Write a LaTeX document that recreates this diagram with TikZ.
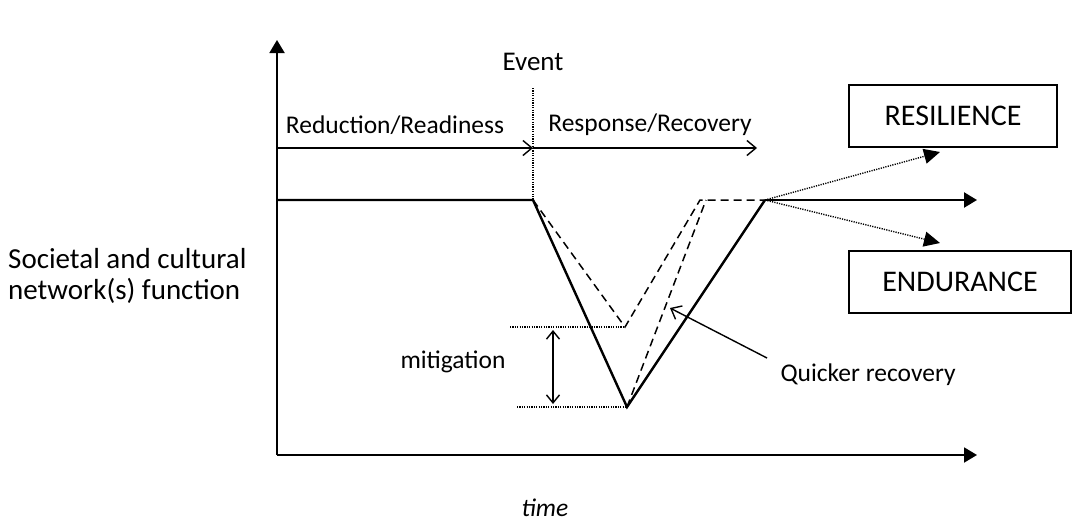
\documentclass[tikz,border=0pt]{standalone}
\usepackage{fontspec}
\setmainfont{Carlito}
\usetikzlibrary{arrows.meta,positioning}
\tikzset{
	axis/.style={line width=1.9pt, -{Triangle[length=13pt,width=15pt]}},
	phase/.style={line width=1.4pt, -{Straight Barb[length=9pt,width=15pt]}},
	func/.style={line width=2.4pt, line join=miter},
	alt/.style={line width=1.5pt, dash pattern=on 8pt off 5pt},
	guide/.style={line width=1.4pt, dash pattern=on 1.2pt off 1.2pt},
	outcome/.style={line width=1.4pt, dash pattern=on 1.2pt off 1.2pt, -{Triangle[length=16pt,width=15pt]}},
	result/.style={draw, line width=1.4pt, minimum height=62pt, inner sep=0pt, font=\fontsize{30}{36}\selectfont},
	lbl/.style={font=\fontsize{25.5}{30}\selectfont, inner sep=0pt}
}
\begin{document}
\begin{tikzpicture}[x=1pt, y=-1pt]
				\useasboundingbox (0,0) rectangle (1073,531);
				% axes
				\coordinate (origin) at (277,455);
				\coordinate (ytop)   at (277,40);
				\coordinate (xend)   at (977,455);
				\draw[axis] (origin) -- (ytop);
				\draw[axis] (origin) -- (xend);
				\node[lbl, font=\fontsize{25.5}{30}\itshape] (time) at (545,508) {time};
				\node[lbl, align=left, anchor=west, font=\fontsize{29}{31}\selectfont] (yname) at (8,276) {Societal and cultural\\network(s) function};
				% phases
				\coordinate (pstart) at (277,148);
				\coordinate (pevent) at (533,148);
				\coordinate (pend)   at (757,148);
				\coordinate (etop)   at (533,88);
				\draw[phase] (pstart) -- (pevent);
				\draw[phase] (pevent) -- (pend);
				\node[lbl, font=\fontsize{27}{32}\selectfont] (event) at (533,62) {Event};
				\node[lbl] (reduction) at (395,125) {Reduction/Readiness};
				\node[lbl] (response)  at (650,125) {Response/Recovery};
				% function curve
				\coordinate (start) at (277,200);
				\coordinate (hit)   at (533,200);
				\coordinate (low)   at (627,407);
				\coordinate (back)  at (765,200);
				\coordinate (fend)  at (977,200);
				\coordinate (mlow)  at (625,327);
				\coordinate (mback) at (700,200);
				\coordinate (qback) at (706,200);
				\draw[guide] (etop) -- (hit);
				\draw[alt] (hit) -- (mlow) -- (mback) -- (back);
				\draw[alt] (low) -- (qback);
				\draw[func] (start) -- (hit) -- (low) -- (back);
				\draw[axis, line width=2.4pt] (back) -- (fend);
				% mitigation
				\coordinate (gtop) at (510,327);
				\coordinate (gbot) at (517,407);
				\coordinate (mtop) at (553,330);
				\coordinate (mbot) at (553,404);
				\draw[guide] (gtop) -- (mlow);
				\draw[guide] (gbot) -- (low);
				\draw[line width=1.4pt, {Straight Barb[length=8pt,width=13pt]}-{Straight Barb[length=8pt,width=13pt]}] (mtop) -- (mbot);
				\node[lbl] (mitigation) at (453,362) {mitigation};
				% quicker recovery
				\coordinate (qtail) at (767,358);
				\coordinate (qtip)  at (670,308);
				\draw[phase] (qtail) -- (qtip);
				\node[lbl] (quicker) at (868,375) {Quicker recovery};
				% outcomes
				\node[result, minimum width=208pt] (resilience) at (953,116) {RESILIENCE};
				\node[result, minimum width=222pt] (endurance)  at (960,282) {ENDURANCE};
				\coordinate (rtip) at (940,152);
				\coordinate (dtip) at (940,243);
				\draw[outcome] (back) -- (rtip);
				\draw[outcome] (back) -- (dtip);
			\end{tikzpicture}
\end{document}
